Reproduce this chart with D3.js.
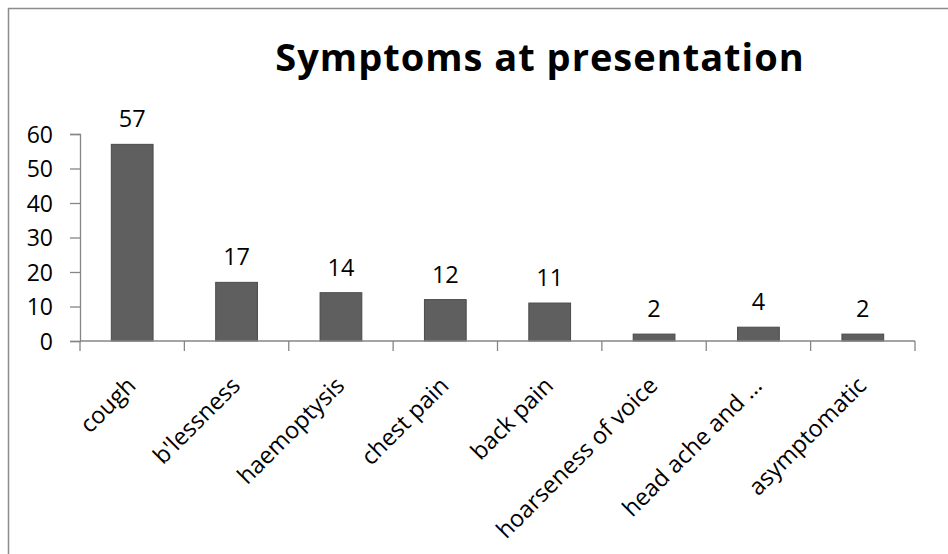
<!DOCTYPE html>
<html>
<head>
<meta charset="utf-8">
<script src="https://cdn.jsdelivr.net/npm/d3@7"></script>
<style>
  html, body { margin: 0; padding: 0; background: #fff; }
  svg { display: block; font-family: "Open Sans", Lato, sans-serif; }
</style>
</head>
<body>
<svg id="chart" width="948" height="554"></svg>
<script>
const categories = ["cough", "b'lessness", "haemoptysis", "chest pain", "back pain", "hoarseness of voice", "head ache and …", "asymptomatic"];
const values = [57, 17, 14, 12, 11, 2, 4, 2];
const yTicks = [0, 10, 20, 30, 40, 50, 60];
const title = "Symptoms at presentation";

const svg = d3.select("#chart");
const W = 948, H = 554;

// chart frame (only top and left edges visible)
svg.append("rect")
  .attr("x", 8.5).attr("y", 8.5)
  .attr("width", W + 20).attr("height", H + 20)
  .attr("fill", "#fff")
  .attr("stroke", "#8c8c8c")
  .attr("stroke-width", 1.5);

const plot = { left: 80, right: 915, top: 134, bottom: 341 };

const x = d3.scaleBand()
  .domain(categories)
  .range([plot.left, plot.right])
  .paddingInner(0.6).paddingOuter(0.3);

const y = d3.scaleLinear()
  .domain([0, 60])
  .range([plot.bottom, plot.top]);

// Title
svg.append("text")
  .attr("x", 540).attr("y", 71)
  .attr("text-anchor", "middle")
  .attr("font-size", 38)
  .attr("letter-spacing", 1)
  .attr("font-weight", "bold")
  .attr("fill", "#000")
  .text(title);

// Bars
svg.append("g").selectAll("rect")
  .data(values)
  .join("rect")
  .attr("x", (d, i) => x(categories[i]))
  .attr("y", d => y(d))
  .attr("width", x.bandwidth())
  .attr("height", d => y(0) - y(d))
  .attr("fill", "#5f5f5f")
  .attr("stroke", "#4a4a4a")
  .attr("stroke-width", 1);

// Y axis
const yAxis = svg.append("g")
  .attr("transform", `translate(${plot.left},0)`)
  .call(d3.axisLeft(y).tickValues(yTicks).tickSize(10).tickPadding(17).tickFormat(d3.format("d")));
yAxis.select(".domain").attr("stroke", "#868686").attr("stroke-width", 1.3);
yAxis.selectAll(".tick line").attr("stroke", "#868686").attr("stroke-width", 1.3);
yAxis.selectAll(".tick text").attr("font-size", 23).attr("fill", "#000")
  .attr("dy", "0.36em")
  .attr("font-family", "'Open Sans', sans-serif");

// X axis: line + ticks at band boundaries
const xg = svg.append("g");
xg.append("line")
  .attr("x1", plot.left).attr("x2", plot.right)
  .attr("y1", plot.bottom).attr("y2", plot.bottom)
  .attr("stroke", "#868686").attr("stroke-width", 1.3);
const step = x.step();
const boundaries = d3.range(categories.length + 1).map(i => x(categories[0]) - x.paddingOuter() * step + i * step);
xg.selectAll("line.tk")
  .data(boundaries)
  .join("line")
  .attr("class", "tk")
  .attr("x1", d => d).attr("x2", d => d)
  .attr("y1", plot.bottom).attr("y2", plot.bottom + 10)
  .attr("stroke", "#868686").attr("stroke-width", 1.3);

// X labels rotated
xg.selectAll("text.lbl")
  .data(categories)
  .join("text")
  .attr("class", "lbl")
  .attr("transform", d => `translate(${x(d) + x.bandwidth() / 2 + 5},387) rotate(-45)`)
  .attr("text-anchor", "end")
  .attr("font-size", 23.5)
  .attr("fill", "#000")
  .text(d => d);

// Data labels
svg.append("g").selectAll("text")
  .data(values)
  .join("text")
  .attr("x", (d, i) => x(categories[i]) + x.bandwidth() / 2)
  .attr("y", d => y(d) - 17)
  .attr("text-anchor", "middle")
  .attr("font-size", 23.5)
  .attr("fill", "#000")
  .text(d => d);
</script>
</body>
</html>
